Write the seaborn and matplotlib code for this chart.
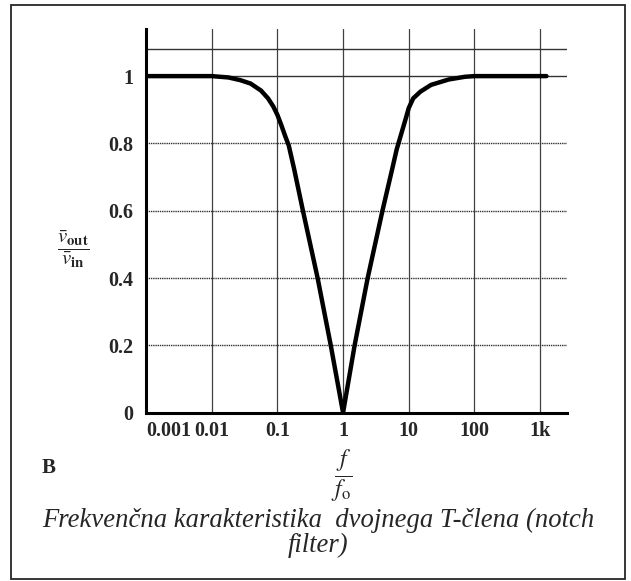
import numpy as np
import pandas as pd
import seaborn as sns
import matplotlib.pyplot as plt
from matplotlib.patches import Rectangle

# values
f_ratio = [0.001, 0.01, 0.018, 0.0272, 0.039, 0.0564, 0.072, 0.0865, 0.1, 0.114,
           0.132, 0.149, 0.18, 0.245, 0.41, 0.65, 1.0, 1.5, 2.37, 3.98, 5.6, 6.55,
           7.76, 9.2, 10, 11.7, 15.1, 21.9, 40.7, 71.6, 100, 1000, 1250]
v_ratio = [1.0, 1.0, 0.996, 0.988, 0.978, 0.957, 0.934, 0.910, 0.885, 0.856,
           0.821, 0.794, 0.724, 0.60, 0.40, 0.20, 0.0, 0.20, 0.40, 0.60, 0.724, 0.782,
           0.831, 0.88, 0.905, 0.934, 0.954, 0.974, 0.990, 0.998, 1.0, 1.0, 1.0]

x_ticks = [0.001, 0.01, 0.1, 1, 10, 100, 1000]
x_labels = ['0.001', '0.01', '0.1', '1', '10', '100', '1k']
y_ticks = [0, 0.2, 0.4, 0.6, 0.8, 1]
y_labels = ['0', '0.2', '0.4', '0.6', '0.8', '1']
top_line = 1.082

caption1 = 'Frekvenčna karakteristika  dvojnega T-člena (notch'
caption2 = 'filter)'

sns.set_style('white')
plt.rcParams['font.family'] = ['Liberation Serif', 'DejaVu Serif']
plt.rcParams['mathtext.fontset'] = 'stix'

df = pd.DataFrame({'f': f_ratio, 'v': v_ratio})

fig = plt.figure(figsize=(6.31, 5.81), dpi=100)
ax = fig.add_axes([0.2314, 0.2897, 0.6672, 0.6604])

# grid
for xv in x_ticks:
    ax.axvline(xv, color='0.25', lw=0.9, zorder=1)
for yv in [0.2, 0.4, 0.6, 0.8]:
    ax.axhline(yv, color='0.2', lw=1.0, ls=(0, (1, 0.6)), zorder=1)
for yv in [1.0, top_line]:
    ax.axhline(yv, color='0.2', lw=1.0, zorder=1)

sns.lineplot(data=df, x='f', y='v', color='black', lw=3.2, ax=ax, zorder=3)

ax.set_xscale('log')
ax.set_xlim(0.001, 2570)
ax.set_ylim(0, 1.14)
ax.set_xticks(x_ticks)
ax.set_xticklabels(x_labels, fontweight='bold', fontsize=14.5)
ax.set_yticks(y_ticks)
ax.set_yticklabels(y_labels, fontweight='bold', fontsize=14.5)
ax.xaxis.set_minor_locator(plt.NullLocator())
ax.tick_params(axis='x', direction='in', length=7, width=2, pad=6, color='black')
ax.tick_params(axis='y', direction='in', length=8, width=2, pad=9, color='black')
ax.get_xticklabels()[0].set_horizontalalignment('left')
ax.set_xlabel('')
ax.set_ylabel('')

for s in ['top', 'right']:
    ax.spines[s].set_visible(False)
for s in ['left', 'bottom']:
    ax.spines[s].set_linewidth(2.2)
    ax.spines[s].set_color('black')

fig.text(73 / 631, 1 - 249 / 581, r'$\dfrac{\bar{v}_{\mathbf{out}}}{\bar{v}_{\mathbf{in}}}$',
         ha='center', va='center', fontsize=15)
fig.text(342 / 631, 1 - 476 / 581, r'$\dfrac{f}{f_{\rm o}}$',
         ha='center', va='center', fontsize=17)
fig.text(49 / 631, 1 - 468 / 581, 'B', ha='center', va='center',
         fontsize=15, fontweight='bold')

fig.text(318 / 631, 1 - 520 / 581, caption1, ha='center', va='center',
         fontsize=19.2, style='italic')
fig.text(318 / 631, 1 - 545 / 581, caption2, ha='center', va='center',
         fontsize=19.2, style='italic')

fig.patches.append(Rectangle((11 / 631, 1 - 579 / 581), 614 / 631, 574 / 581,
                             transform=fig.transFigure, fill=False,
                             edgecolor='0.15', lw=1.3))

fig.savefig('out.png', dpi=100)
